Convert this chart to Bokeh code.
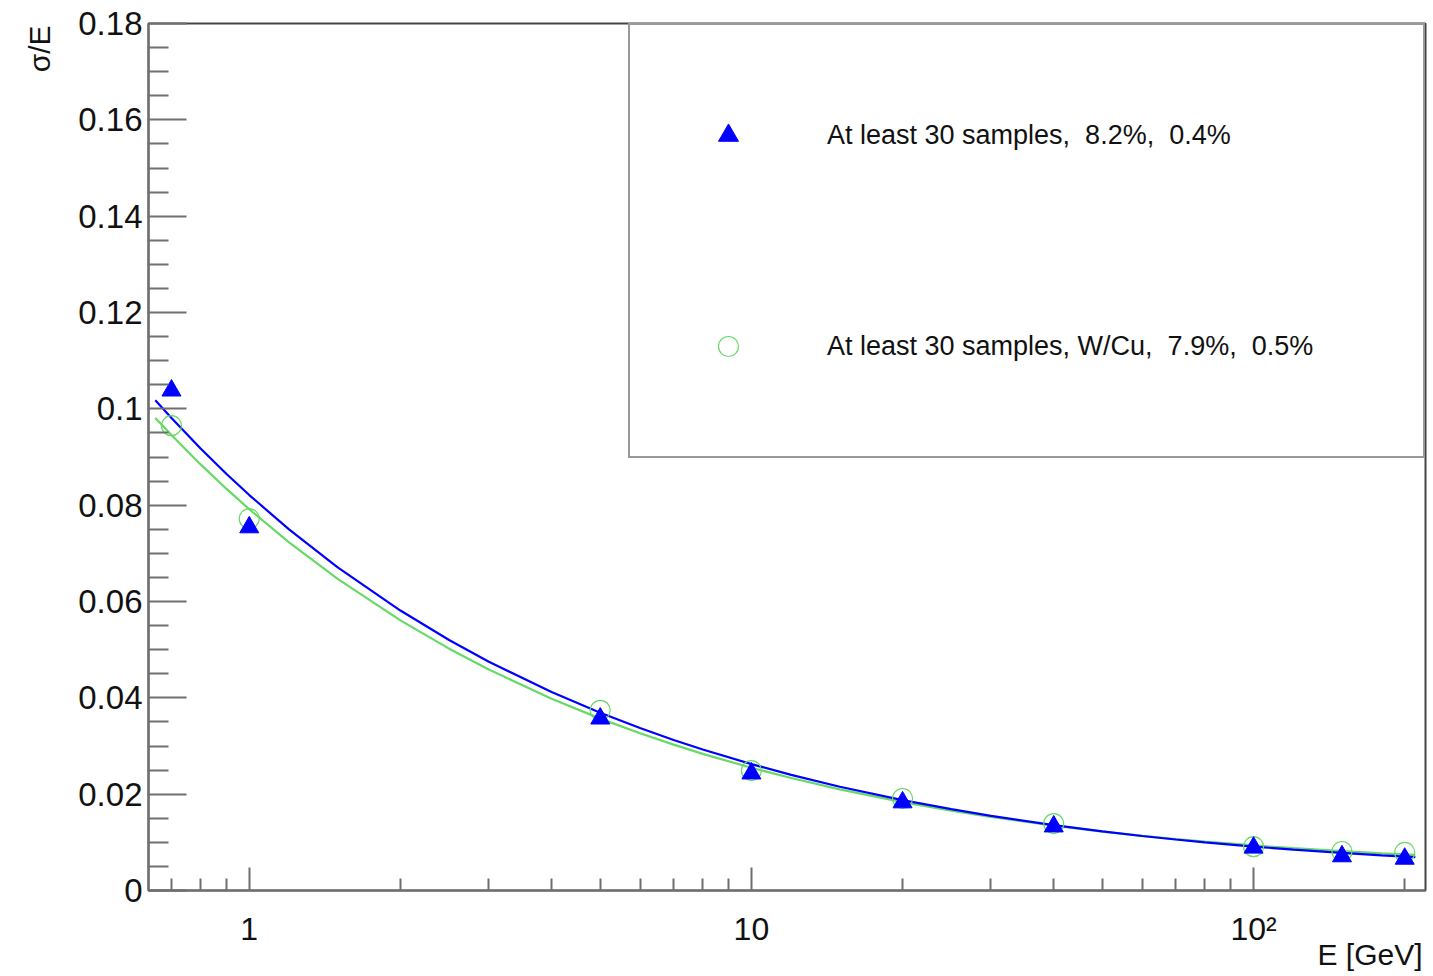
from bokeh.plotting import figure
from bokeh.models import FixedTicker, Range1d, Title
from bokeh.embed import file_html
from bokeh.resources import INLINE

# ---- data ----
energy = [0.7, 1, 5, 10, 20, 40, 100, 150, 200]
res_blue = [0.1038, 0.0754, 0.0357, 0.0243, 0.0183, 0.0133, 0.0089, 0.0071, 0.0066]
res_green = [0.0965, 0.0772, 0.0374, 0.0249, 0.0191, 0.0139, 0.0091, 0.0081, 0.0079]

curve_e = [0.65, 0.7, 0.8, 0.9, 1, 1.2, 1.5, 2, 2.5, 3, 4, 5, 6, 7, 8, 10, 12, 15,
           20, 25, 30, 40, 50, 60, 70, 80, 100, 120, 150, 180, 210]
curve_blue = [0.10179, 0.09809, 0.09177, 0.08653, 0.08210, 0.07496, 0.06707, 0.05812,
              0.05202, 0.04751, 0.04120, 0.03689, 0.03372, 0.03125, 0.02927, 0.02624,
              0.02401, 0.02155, 0.01877, 0.01688, 0.01550, 0.01357, 0.01227, 0.01132,
              0.01059, 0.01000, 0.00912, 0.00849, 0.00780, 0.00730, 0.00693]
curve_green = [0.09812, 0.09456, 0.08846, 0.08342, 0.07916, 0.07229, 0.06470, 0.05609,
               0.05021, 0.04588, 0.03981, 0.03568, 0.03264, 0.03028, 0.02837, 0.02548,
               0.02335, 0.02100, 0.01836, 0.01657, 0.01526, 0.01345, 0.01224, 0.01136,
               0.01068, 0.01015, 0.00935, 0.00878, 0.00816, 0.00772, 0.00740]

label_blue = "At least 30 samples,  8.2%,  0.4%"
label_green = "At least 30 samples, W/Cu,  7.9%,  0.5%"
x_title = "E [GeV]"
y_title = "σ/E"

x_major = [1, 10, 100]
x_major_labels = {1: "1", 10: "10", 100: "10²"}
x_minor = [0.7, 0.8, 0.9, 2, 3, 4, 5, 6, 7, 8, 9, 20, 30, 40, 50, 60, 70, 80, 90, 200]
y_major = [0, 0.02, 0.04, 0.06, 0.08, 0.1, 0.12, 0.14, 0.16, 0.18]
y_major_labels = {0: "0", 0.02: "0.02", 0.04: "0.04", 0.06: "0.06", 0.08: "0.08",
                  0.1: "0.1", 0.12: "0.12", 0.14: "0.14", 0.16: "0.16", 0.18: "0.18"}
y_minor = [round(0.005 * i, 3) for i in range(37) if i % 4 != 0]

FONT = "Liberation Sans"
BLUE = "#0000ff"
GREEN = "#66d966"
AXIS_GREY = "#6e6e6e"
TEXT = "#111111"

p = figure(width=1433, height=976, x_axis_type="log",
           x_range=Range1d(0.63, 220), y_range=Range1d(0, 0.18),
           output_backend="svg", toolbar_location=None,
           min_border_left=148, min_border_right=8, min_border_top=23, min_border_bottom=86)

p.grid.visible = False
p.background_fill_color = "white"
p.border_fill_color = "white"
p.outline_line_color = "#444444"
p.outline_line_width = 2

# curves
p.line(curve_e, curve_green, line_color=GREEN, line_width=2.2)
p.line(curve_e, curve_blue, line_color=BLUE, line_width=2.2)

# markers
p.scatter(energy, res_green, marker="circle", size=20, fill_color=None,
          line_color=GREEN, line_width=1.2, legend_label=label_green)
p.scatter(energy, res_blue, marker="triangle", size=19, fill_color=BLUE,
          line_color=BLUE, legend_label=label_blue)

# axes
xa = p.xaxis[0]
xa.ticker = FixedTicker(ticks=x_major, minor_ticks=x_minor)
xa.major_label_overrides = x_major_labels
xa.major_tick_in = 23
xa.major_tick_out = 0
xa.minor_tick_in = 12
xa.minor_tick_out = 0
xa.major_label_standoff = 20
xa.major_label_text_font = FONT
xa.major_label_text_font_size = "32px"
xa.major_label_text_color = TEXT

ya = p.yaxis[0]
ya.ticker = FixedTicker(ticks=y_major, minor_ticks=y_minor)
ya.major_label_overrides = y_major_labels
ya.major_tick_in = 38
ya.major_tick_out = 0
ya.minor_tick_in = 20
ya.minor_tick_out = 0
ya.major_label_standoff = 6
ya.major_label_text_font = FONT
ya.major_label_text_font_size = "33px"
ya.major_label_text_color = TEXT

for ax in (xa, ya):
    ax.axis_line_color = AXIS_GREY
    ax.axis_line_width = 2
    ax.major_tick_line_color = AXIS_GREY
    ax.major_tick_line_width = 2
    ax.minor_tick_line_color = AXIS_GREY
    ax.minor_tick_line_width = 2

# axis titles (ROOT style: at the far ends of the axes)
p.add_layout(Title(text=x_title, align="right", offset=3, standoff=-27,
                   text_font=FONT, text_font_size="30px", text_font_style="normal",
                   text_color=TEXT), "below")
p.add_layout(Title(text=y_title, align="right", offset=2, standoff=40,
                   text_font=FONT, text_font_size="30px", text_font_style="normal",
                   text_color=TEXT), "left")

# legend
lg = p.legend[0]
lg.location = "top_right"
lg.margin = 0
lg.padding = 73
lg.spacing = 137
lg.glyph_width = 50
lg.glyph_height = 74
lg.label_height = 74
lg.label_width = 523
lg.label_standoff = 74
lg.label_text_font = FONT
lg.label_text_font_size = "27px"
lg.label_text_color = TEXT
lg.border_line_color = "#333333"
lg.border_line_width = 2
lg.background_fill_color = "white"
lg.background_fill_alpha = 1.0
# ROOT legend lists the triangles first
lg.items = [lg.items[1], lg.items[0]]

open("out.html", "w").write(file_html(p, INLINE))
